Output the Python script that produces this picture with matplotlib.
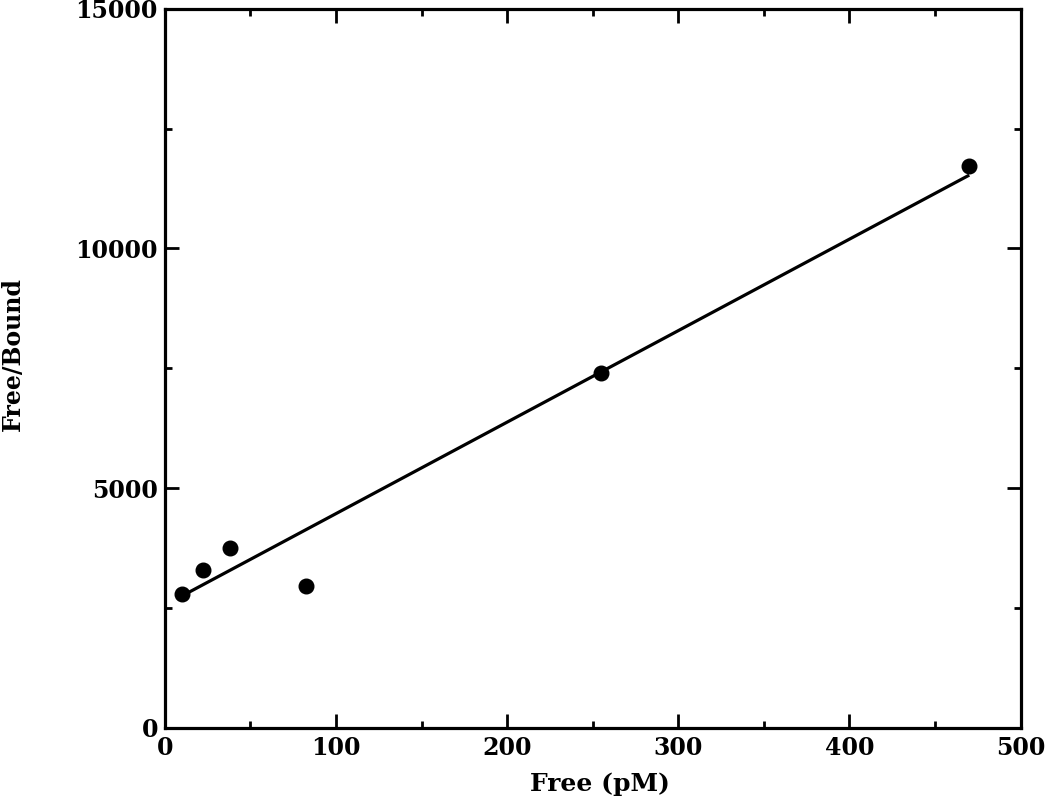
import matplotlib
matplotlib.use("Agg")
import matplotlib.pyplot as plt
from matplotlib.ticker import MultipleLocator

# data
free_pm = [10, 22, 38, 82.5, 255, 469.6]
free_bound = [2790, 3300, 3760, 2950, 7400, 11715]

# fitted line end points
fit_x = [10, 470]
fit_y = [2750, 11530]

plt.rcParams['font.family'] = 'DejaVu Serif'
plt.rcParams['font.weight'] = 'bold'

fig = plt.figure(figsize=(10.5, 7.98), dpi=100)
ax = fig.add_axes([0.157, 0.088, 0.815, 0.901])

ax.plot(fit_x, fit_y, color='black', lw=2.3, solid_capstyle='butt')
ax.plot(free_pm, free_bound, 'o', color='black', markersize=10.5)

ax.set_xlim(0, 500)
ax.set_ylim(0, 15000)
ax.xaxis.set_major_locator(MultipleLocator(100))
ax.xaxis.set_minor_locator(MultipleLocator(50))
ax.yaxis.set_major_locator(MultipleLocator(5000))
ax.yaxis.set_minor_locator(MultipleLocator(2500))

ax.tick_params(which='both', direction='in', top=True, right=True, width=2, labelsize=17)
ax.tick_params(which='major', length=10)
ax.tick_params(axis='x', which='major', pad=6)
ax.tick_params(axis='y', which='major', pad=5)
ax.tick_params(which='minor', length=5)
for s in ax.spines.values():
    s.set_linewidth(2.3)

ax.set_xlabel("Free (pM)", fontsize=18, fontweight='bold')
ax.xaxis.set_label_coords(0.509, -0.062)
ax.set_ylabel("Free/Bound", fontsize=17, fontweight='bold')
ax.yaxis.set_label_coords(-0.163, 0.52)

plt.savefig("out.png", dpi=100)
